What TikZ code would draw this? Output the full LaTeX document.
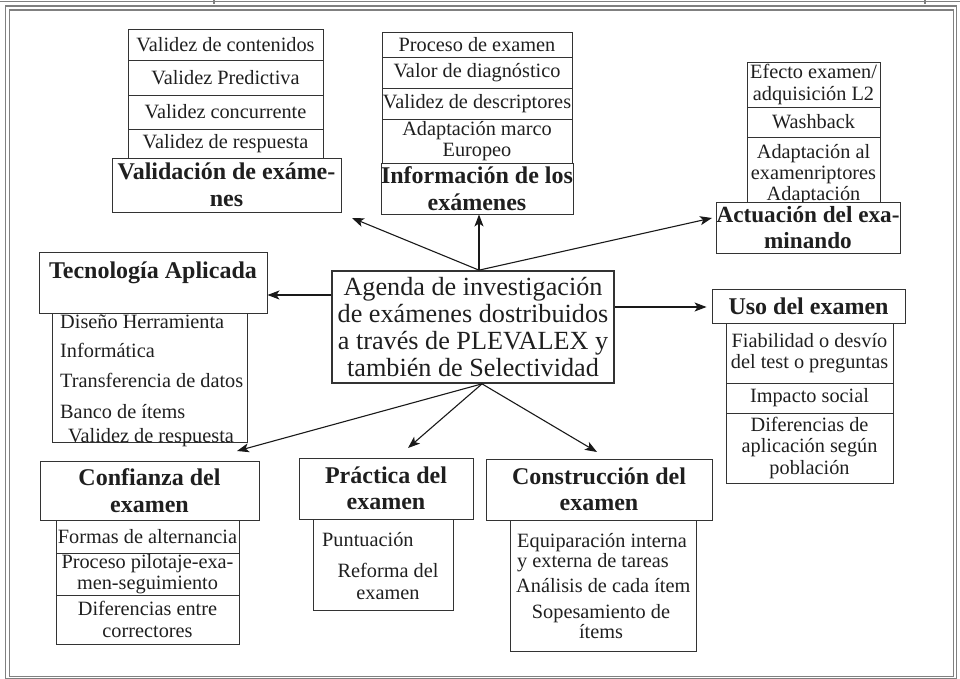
\documentclass[tikz,border=0pt]{standalone}
\usepackage{fontspec}
\setmainfont{Liberation Serif}
\usetikzlibrary{arrows.meta}
\newcommand\itemf{\fontsize{20.3}{21.5}\selectfont}
\newcommand\headf{\fontsize{24}{26.5}\selectfont\bfseries}
\newcommand\actf{\fontsize{23.2}{26.5}\selectfont\bfseries}
\newcommand\centf{\fontsize{26.2}{27}\selectfont}
\definecolor{lnc}{gray}{0.2}
\definecolor{txc}{gray}{0.12}
\definecolor{frc}{gray}{0.5}
\begin{document}
\begin{tikzpicture}[x=1pt,y=-1pt,
  ln/.style={draw=lnc, line width=0.9pt},
  cell/.style={ln, rectangle, inner sep=0pt, align=center, font=\itemf, text=txc},
  head/.style={ln, fill=white, rectangle, inner sep=0pt, align=center, font=\headf, text=txc},
  txt/.style={inner sep=0pt, font=\itemf, text=txc},
  arr/.style={draw=black!90, line width=1.1pt, -{Stealth[length=12pt,width=9pt,inset=3pt]}},
  frame/.style={draw=frc, line width=1.2pt}]
\useasboundingbox (0,0) rectangle (960,679);
% page frame
\draw[frame] (0,1.5) -- (960,1.5);
\draw[frame] (214,0) -- (214,4);
\draw[frame] (925,0) -- (925,4);
\draw[frame] (5.5,6) rectangle (956.5,678.5);
\draw[frame] (9.5,10) rectangle (953.5,676.5);

% ---------- Validacion
\node[cell, minimum width=195pt, minimum height=31pt] (v1) at (225.5,44.5) {Validez de contenidos};
\node[cell, minimum width=195pt, minimum height=35pt] (v2) at (225.5,77.5) {Validez Predictiva};
\node[cell, minimum width=195pt, minimum height=34pt] (v3) at (225.5,112) {Validez concurrente};
\node[cell, minimum width=195pt, minimum height=29pt] (v4) at (225.5,143.5) {Validez de respuesta};
\node[head, minimum width=229pt, minimum height=54pt] (val) at (226.5,185) {Validación de exáme-\\nes};

% ---------- Informacion
\node[cell, minimum width=190pt, minimum height=25pt] (i1) at (477,44.5) {Proceso de examen};
\node[cell, minimum width=190pt, minimum height=31pt] (i2) at (477,72.5) {Valor de diagnóstico};
\node[cell, minimum width=190pt, minimum height=31pt] (i3) at (477,103.5) {Validez de descriptores};
\node[cell, minimum width=190pt, minimum height=44pt] (i4) at (477,141) {Adaptación marco\\Europeo};
\node[head, minimum width=190pt, minimum height=51pt] (inf) at (477,188.5) {Información de los\\exámenes};

% ---------- Actuacion
\node[cell, minimum width=133pt, minimum height=45pt] (a1) at (813.5,84.5) {Efecto examen/\\adquisición L2};
\node[cell, minimum width=133pt, minimum height=30pt] (a2) at (813.5,122) {Washback};
\node[cell, minimum width=133pt, minimum height=65pt] (a3) at (813.5,169.5) {};
\node[inner sep=0pt, text=txc, font=\fontsize{20.3}{21}\selectfont, align=center, anchor=north] (a3t) at (813.5,144) {Adaptación al\\examenriptores\\Adaptación};
\node[head, font=\actf, minimum width=184pt, minimum height=51pt] (act) at (808,227.5) {Actuación del exa-\\minando};

% ---------- Tecnologia
\node[cell, minimum width=195pt, minimum height=129pt] (tecs) at (149.5,377.5) {};
\node[head, minimum width=228pt, minimum height=61pt] (tec) at (153,282.5) {};
\node[inner sep=0pt, font=\headf, text=txc, anchor=base] (tect) at (153,278) {Tecnología Aplicada};
\node[txt, anchor=base west] (t1) at (60,328) {Diseño Herramienta};
\node[txt, anchor=base west] (t2) at (60,357) {Informática};
\node[txt, anchor=base west] (t3) at (60,387) {Transferencia de datos};
\node[txt, anchor=base west] (t4) at (60,418) {Banco de ítems};
\node[txt, anchor=base west] (t5) at (68,442) {Validez de respuesta};

% ---------- Centre
\node[draw=lnc, line width=1.7pt, minimum width=282pt, minimum height=112pt, inner sep=0pt,
      align=center, font=\centf, text=txc] (cen) at (473,327)
      {Agenda de investigación\\de exámenes dostribuidos\\a través de PLEVALEX y\\también de Selectividad};

% ---------- Uso
\node[cell, minimum width=167pt, minimum height=60pt] (u1) at (809.5,353) {Fiabilidad o desvío\\del test o preguntas};
\node[cell, minimum width=167pt, minimum height=30pt] (u2) at (809.5,398) {Impacto social};
\node[cell, minimum width=167pt, minimum height=70pt] (u3) at (809.5,448) {Diferencias de\\aplicación según\\población};
\node[head, minimum width=193pt, minimum height=34pt] (uso) at (808.5,306) {Uso del examen};

% ---------- Confianza
\node[cell, minimum width=183pt, minimum height=33pt] (c1) at (147.5,536.5) {Formas de alternancia};
\node[cell, minimum width=183pt, minimum height=42pt] (c2) at (147.5,574) {Proceso pilotaje-exa-\\men-seguimiento};
\node[cell, minimum width=183pt, minimum height=49pt] (c3) at (147.5,619.5) {Diferencias entre\\correctores};
\node[head, minimum width=219pt, minimum height=59pt] (conf) at (149.5,490.5) {Confianza del\\examen};

% ---------- Practica
\node[cell, minimum width=140pt, minimum height=91pt] (pracs) at (383,564.5) {};
\node[head, minimum width=174pt, minimum height=61pt] (prac) at (386,488.5) {Práctica del\\examen};
\node[txt, anchor=base west] (p1) at (322,546) {Puntuación};
\node[txt, align=center, anchor=north] (p2) at (388,563) {Reforma del\\examen};

% ---------- Construccion
\node[cell, minimum width=186pt, minimum height=131pt] (conss) at (603,585.5) {};
\node[head, minimum width=226pt, minimum height=61pt] (cons) at (599,489.5) {Construcción del\\examen};
\node[txt, anchor=base west] (k1) at (517,547) {Equiparación interna};
\node[txt, anchor=base west] (k2) at (517,567) {y externa de tareas};
\node[txt, anchor=base west] (k3) at (516,592) {Análisis de cada ítem};
\node[txt, anchor=base] (k4) at (601,618) {Sopesamiento de};
\node[txt, anchor=base] (k5) at (601,638) {ítems};

% ---------- arrows
\coordinate (tval) at (352,218);
\coordinate (tact) at (712,218);
\coordinate (tconf) at (237,451);
\coordinate (tprac) at (408,448);
\coordinate (tcons) at (597,452);
\draw[arr] ([xshift=6pt]cen.north) -- (tval);
\draw[arr] ([xshift=6pt]cen.north) -- ([xshift=2pt]inf.south);
\draw[arr] ([xshift=6pt]cen.north) -- (tact);
\draw[arr] ([yshift=32pt]cen.west) -- ([yshift=-12.5pt]tec.east);
\draw[arr] ([yshift=20pt]cen.east) -- ([xshift=-5pt,yshift=-1pt]uso.west);
\draw[arr] ([xshift=9pt]cen.south) -- (tconf);
\draw[arr] ([xshift=9pt]cen.south) -- (tprac);
\draw[arr] ([xshift=9pt]cen.south) -- (tcons);
\end{tikzpicture}
\end{document}
